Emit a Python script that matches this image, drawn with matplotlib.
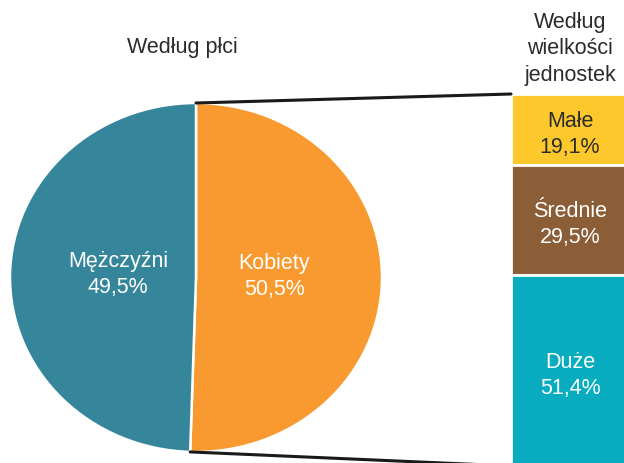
import numpy as np
import matplotlib
matplotlib.use("Agg")
import matplotlib.pyplot as plt
from matplotlib.patches import ConnectionPatch

plt.rcParams['font.family'] = ['Liberation Sans', 'DejaVu Sans']

# Data
gender_labels = ["Kobiety", "Mężczyźni"]
gender_values = [50.5, 49.5]
gender_colors = ["#F89A2F", "#35869B"]

size_labels = ["Małe", "Średnie", "Duże"]
size_values = [19.1, 29.5, 51.4]
size_colors = ["#FDC82B", "#8B5E37", "#07ADBF"]
size_text_colors = ["#2b2b2b", "white", "white"]

title_left = "Według płci"
title_right = "Według\nwielkości\njednostek"

def fmt(v):
    return f"{v:.1f}".replace(".", ",") + "%"

FS = 15.5
LS = 1.32

W, H = 624, 463
fig = plt.figure(figsize=(W / 100, H / 100), dpi=100)

def px_axes(x0, y0, x1, y1):
    return fig.add_axes([x0 / W, 1 - y1 / H, (x1 - x0) / W, (y1 - y0) / H])

# Overlay for titles
ov = fig.add_axes([0, 0, 1, 1])
ov.set_xlim(0, W)
ov.set_ylim(H, 0)
ov.axis("off")
ov.text(182, 48, title_left, ha="center", va="center", fontsize=FS, color="#2b2b2b")
ov.text(570, 49, title_right, ha="center", va="center", fontsize=FS, color="#2b2b2b",
        linespacing=LS)

# Pie
pax = px_axes(10, 103, 382, 452)
wedges, _ = pax.pie(gender_values, colors=gender_colors, startangle=90, counterclock=False,
                    wedgeprops=dict(edgecolor="white", linewidth=1.8))
pax.set_aspect("auto")
pax.set_xlim(-1, 1)
pax.set_ylim(-1, 1)
pax.axis("off")
for w, lab, val in zip(wedges, gender_labels, gender_values):
    mid = np.deg2rad((w.theta1 + w.theta2) / 2)
    r = 0.42
    pax.text(r * np.cos(mid), r * np.sin(mid) + 0.01, f"{lab}\n{fmt(val)}", ha="center", va="center",
             fontsize=FS, color="white", linespacing=LS)

# Stacked bar
bax = px_axes(511, 94, 629, 466)
bottom = 0
for lab, val, col, tc in zip(size_labels, size_values, size_colors, size_text_colors):
    bax.bar(0, val, bottom=bottom, width=1, color=col, edgecolor="white", linewidth=2)
    bax.text(0, bottom + val / 2 + 1.3, f"{lab}\n{fmt(val)}", ha="center", va="center",
             fontsize=FS, color=tc, linespacing=LS)
    bottom += val
bax.set_xlim(-0.5, 0.5)
bax.set_ylim(sum(size_values), 0)
bax.axis("off")

# Connector lines
w0 = wedges[0]
t_start = np.deg2rad(w0.theta2)
t_end = np.deg2rad(w0.theta1)
for th, yb in [(t_start, 0), (t_end, sum(size_values))]:
    con = ConnectionPatch(xyA=(np.cos(th), np.sin(th)), coordsA=pax.transData,
                          xyB=(-0.5, yb), coordsB=bax.transData,
                          color="#1a1a1a", linewidth=2.2)
    fig.add_artist(con)

fig.savefig("out.png", dpi=100)
